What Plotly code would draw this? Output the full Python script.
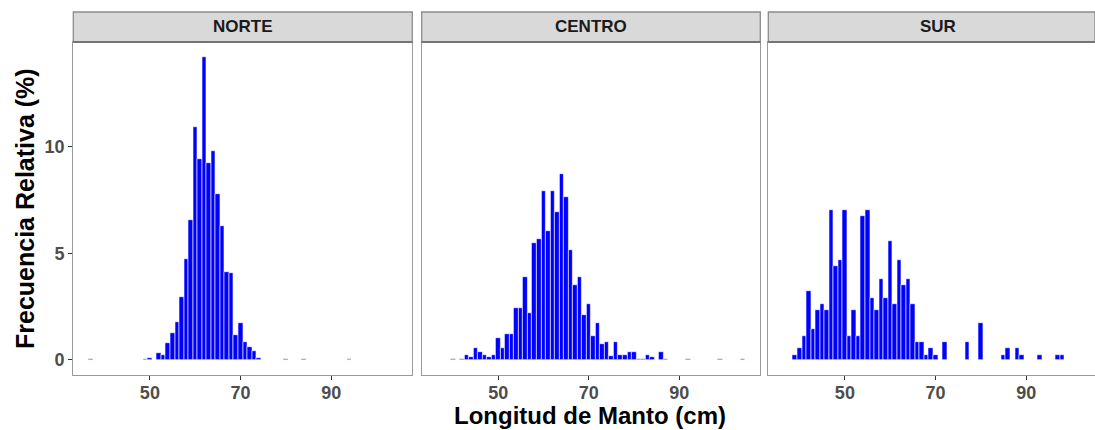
import plotly.graph_objects as go

# ---------------- data ----------------
norte_x = [37, 49, 50, 52, 53, 54, 55, 56, 57, 58, 59, 60, 61, 62, 63, 64, 65,
           66, 67, 68, 69, 70, 71, 72, 73, 74, 80, 84, 94]
norte_y = [0.05, 0.03, 0.07, 0.31, 0.25, 0.78, 1.28, 1.78, 2.93, 4.74, 6.56,
           10.9, 9.44, 14.2, 9.24, 9.78, 7.76, 6.28, 4.13, 4.07, 1.15, 1.73,
           0.86, 0.62, 0.40, 0.11, 0.05, 0.05, 0.05]

centro_x = [40, 42, 43, 44, 45, 46, 47, 48, 49, 50, 51, 52, 53, 54, 55, 56, 57,
            58, 59, 60, 61, 62, 63, 64, 65, 66, 67, 68, 69, 70, 71, 72, 73, 74,
            75, 76, 77, 78, 79, 80, 81, 82, 83, 84, 86, 87, 92, 99, 104]
centro_y = [0.05, 0.05, 0.25, 0.14, 0.55, 0.36, 0.25, 0.14, 0.25, 1.04, 0.55,
            1.23, 1.23, 2.41, 2.41, 3.91, 2.21, 5.47, 5.65, 7.91, 6.04, 7.91,
            6.92, 8.71, 7.62, 5.17, 3.49, 3.91, 2.12, 2.62, 1.14, 1.73, 0.75,
            0.84, 0.16, 0.84, 0.25, 0.25, 0.36, 0.36, 0.06, 0.06, 0.25, 0.14,
            0.36, 0.06, 0.05, 0.05, 0.05]

sur_x = [39, 40, 41, 42, 43, 44, 45, 46, 47, 48, 49, 50, 51, 52, 53, 54, 55,
         56, 57, 58, 59, 60, 61, 62, 63, 64, 65, 66, 67, 68, 69, 70, 72, 77,
         80, 85, 86, 88, 89, 93, 97, 98]
sur_y = [0.25, 0.55, 1.14, 3.22, 1.43, 2.32, 2.62, 2.32, 7.04, 4.39, 4.67,
         7.04, 1.14, 2.32, 1.14, 6.74, 7.04, 2.91, 2.32, 3.80, 2.91, 5.58,
         2.62, 4.67, 3.50, 3.80, 2.62, 0.84, 0.84, 0.25, 0.55, 0.25, 0.84,
         0.84, 1.73, 0.25, 0.55, 0.55, 0.25, 0.25, 0.25, 0.25]

panels = ["NORTE", "CENTRO", "SUR"]
x_ticks = [50, 70, 90]
y_ticks = [0, 5, 10]
x_title = "Longitud de Manto (cm)"
y_title = "Frecuencia Relativa (%)"

# ---------------- layout geometry ----------------
W, H = 1095, 430
px = lambda v: v / W
py = lambda v: 1 - v / H

x_doms = [[px(73.3), px(412.3)], [px(421.7), px(760.3)], [px(768.3), 1.0]]
unit = (412.3 - 73.3) / (107.9 - 33.1)
x_ranges = [[33.1, 107.9], [33.1, 107.9],
            [33.1, 33.1 + (W - 768.3) / unit]]
y_dom = [py(375), py(42)]
y_range = [-0.71, 14.91]
strip_top, strip_bot = py(12), py(42)

fig = go.Figure()
series = [(norte_x, norte_y), (centro_x, centro_y), (sur_x, sur_y)]
for i, (xs, ys) in enumerate(series):
    sfx = "" if i == 0 else str(i + 1)
    fig.add_trace(go.Bar(
        x=xs, y=ys, width=1.0,
        marker=dict(color="#0000FF", line=dict(color="white", width=0.6)),
        xaxis="x" + sfx, yaxis="y" + sfx, showlegend=False,
    ))

font_family = "Liberation Sans, Arial, sans-serif"
layout = dict(
    width=W, height=H,
    margin=dict(l=0, r=0, t=0, b=0),
    paper_bgcolor="white", plot_bgcolor="white",
    bargap=0,
    font=dict(family=font_family),
)
for i in range(3):
    sfx = "" if i == 0 else str(i + 1)
    layout["xaxis" + sfx] = dict(
        domain=x_doms[i], range=x_ranges[i], anchor="y" + sfx,
        tickvals=x_ticks, ticktext=[str(t) for t in x_ticks],
        ticks="outside", ticklen=4, tickcolor="#333333", tickwidth=1,
        ticklabelstandoff=-3,
        tickfont=dict(size=18, color="#4D4D4D", family=font_family, weight="bold"),
        showgrid=False, zeroline=False,
        showline=True, mirror=True, linecolor="#999999", linewidth=1.3,
    )
    layout["yaxis" + sfx] = dict(
        domain=y_dom, range=y_range, anchor="x" + sfx,
        tickvals=y_ticks, ticktext=[str(t) for t in y_ticks],
        ticks="outside" if i == 0 else "", ticklen=4, tickcolor="#333333", tickwidth=1,
        showticklabels=(i == 0),
        tickfont=dict(size=18, color="#4D4D4D", family=font_family, weight="bold"),
        showgrid=False, zeroline=False,
        showline=True, mirror=True, linecolor="#999999", linewidth=1.3,
    )
fig.update_layout(**layout)

shapes = []
annotations = []
for i, name in enumerate(panels):
    x0, x1 = x_doms[i]
    shapes.append(dict(type="rect", xref="paper", yref="paper",
                       x0=x0, x1=x1, y0=strip_bot, y1=strip_top,
                       fillcolor="#D9D9D9", line=dict(color="#8C8C8C", width=1.3),
                       layer="above"))
    full_w = (412.3 - 73.3) / W
    cx = x0 + full_w / 2
    annotations.append(dict(text="<b>%s</b>" % name, xref="paper", yref="paper",
                            x=cx, y=(strip_top + strip_bot) / 2,
                            xanchor="center", yanchor="middle", showarrow=False,
                            font=dict(size=17, color="#1A1A1A", family=font_family)))
# darker line at bottom of strips
for i in range(3):
    x0, x1 = x_doms[i]
    shapes.append(dict(type="line", xref="paper", yref="paper",
                       x0=x0, x1=x1, y0=strip_bot, y1=strip_bot,
                       line=dict(color="#666666", width=1.3)))

annotations.append(dict(text="<b>%s</b>" % x_title, xref="paper", yref="paper",
                        x=px(590), y=0, xanchor="center", yanchor="bottom",
                        yshift=0, showarrow=False, borderpad=0,
                        font=dict(size=24, color="black", family=font_family)))
annotations.append(dict(text="<b>%s</b>" % y_title, xref="paper", yref="paper",
                        x=px(25), y=py(209), xanchor="center", yanchor="middle",
                        textangle=-90, showarrow=False,
                        font=dict(size=25, color="black", family=font_family)))
fig.update_layout(shapes=shapes, annotations=annotations)

fig.write_html(
    "out.html",
    config={"displayModeBar": False},
    post_script="document.body.style.margin='0px';document.body.style.overflow='hidden';",
)
